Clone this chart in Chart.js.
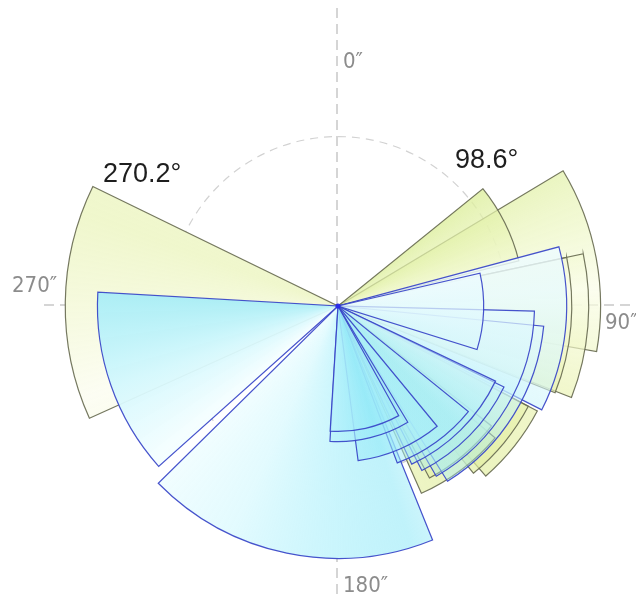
<!DOCTYPE html>
<html>
<head>
<meta charset="utf-8">
<script src="https://cdn.jsdelivr.net/npm/chart.js@4/dist/chart.umd.min.js"></script>
<style>
  html, body { margin: 0; padding: 0; background: #ffffff; overflow: hidden; }
  #wrap { width: 636px; height: 595px; position: relative; }
</style>
</head>
<body>
<div id="wrap"><canvas id="rose"></canvas></div>
<script>
// Joint set A (yellow): sector azimuths (deg, clockwise from north) and frequency (%)
const setAFrom = [245.7, 51, 59, 78, 78, 117.8, 117.8, 128, 130];
const setATo   = [296, 76, 100, 111.8, 111.4, 141, 139, 152, 156];
const setAFreq = [16.1, 11.0, 15.5, 13.8, 14.8, 12.7, 13.3, 11.5, 12.1];

// Joint set B (blue)
const setBFrom = [228.2, 158, 75, 77, 91.5, 95.6, 115.5, 116, 151, 149, 140.5, 129];
const setBTo   = [273.3, 225.4, 117, 107.4, 150, 148, 155, 153, 183.6, 183.4, 172.6, 159.3];
const setBFreq = [14.2, 14.9, 13.5, 8.6, 11.6, 12.2, 10.3, 10.9, 7.4, 8.0, 9.2, 9.9];

// Compass labels and mean directions
const axisLabels = ['0″', '90″', '180″', '270″'];
const meanLabels = ['270.2°', '98.6°'];

const refRing = 10;   // dashed reference circle (%)
const rMax = 17;      // outer limit of the radial scale (%)

// colour ramps around the compass (bearing in degrees -> rgba)
const blueRamp = [
  [0, 'rgba(190,242,250,0.60)'], [75, 'rgba(238,252,255,0.84)'], [110, 'rgba(215,247,252,0.60)'],
  [135, 'rgba(168,238,249,0.40)'], [150, 'rgba(168,238,249,0.42)'], [163, 'rgba(150,234,248,0.60)'],
  [185, 'rgba(188,243,252,0.74)'], [205, 'rgba(222,250,254,0.86)'], [230, 'rgba(244,254,255,0.93)'],
  [250, 'rgba(212,248,253,0.95)'], [275, 'rgba(160,236,248,0.88)'], [360, 'rgba(190,242,250,0.60)']
];
const yellowRamp = [
  [0, 'rgba(232,242,185,0.60)'], [50, 'rgba(220,238,155,0.80)'], [66, 'rgba(232,244,182,0.68)'],
  [86, 'rgba(250,253,232,0.72)'], [110, 'rgba(234,243,178,0.65)'], [140, 'rgba(226,238,160,0.68)'],
  [250, 'rgba(252,253,242,0.92)'], [290, 'rgba(236,245,192,0.80)'], [360, 'rgba(232,242,185,0.60)']
];

const fillCache = {};
function sectorFill(chart, kind) {
  const flat = kind === 'B' ? 'rgba(180,240,250,0.6)' : 'rgba(230,242,175,0.6)';
  const s = chart.scales && chart.scales.r;
  if (!s || !Number.isFinite(s.xCenter) || !Number.isFinite(s.yCenter)) return flat;
  const key = kind + ':' + s.xCenter + ',' + s.yCenter;
  if (fillCache[key]) return fillCache[key];
  const ctx = chart.ctx;
  if (typeof ctx.createConicGradient !== 'function') return flat;
  const g = ctx.createConicGradient(-Math.PI / 2, s.xCenter, s.yCenter);
  (kind === 'B' ? blueRamp : yellowRamp).forEach(([deg, col]) => g.addColorStop(deg / 360, col));
  fillCache[key] = g;
  return g;
}

// one polar-area dataset per sector: a zero-length spacer up to the start azimuth, then the sector.
// Shorter sectors are layered above longer ones, blue above yellow.
function sectorDataset(from, to, freq, kind) {
  return {
    data: [0, freq],
    angle: (c) => (c.dataIndex === 0 ? from : to - from),
    backgroundColor: (c) => (c.dataIndex === 0 ? 'rgba(0,0,0,0)' : sectorFill(c.chart, kind)),
    borderColor: (c) => (c.dataIndex === 0 ? 'rgba(0,0,0,0)' : (kind === 'B' ? 'rgba(55,68,200,0.92)' : 'rgba(105,108,82,0.92)')),
    borderWidth: (c) => (c.dataIndex === 0 ? 0 : 1.2),
    borderJoinStyle: 'miter',
    order: (kind === 'B' ? 0 : 100) + freq,
    clip: false,
    masksGuides: kind === 'B' || from > 180
  };
}

const datasets = [];
setBFrom.forEach((f, i) => datasets.push(sectorDataset(f, setBTo[i], setBFreq[i], 'B')));
setAFrom.forEach((f, i) => datasets.push(sectorDataset(f, setATo[i], setAFreq[i], 'A')));

// compass cross and reference ring, dashed, kept out of the opaque sectors; labels on top
const compassAxes = {
  id: 'compassAxes',
  beforeDatasetsDraw(chart) {
    const s = chart.scales.r;
    const cx = s.xCenter, cy = s.yCenter;
    const off = document.createElement('canvas');
    off.width = chart.canvas.width;
    off.height = chart.canvas.height;
    const o = off.getContext('2d');
    o.strokeStyle = '#ababab';
    o.lineWidth = 1;
    o.setLineDash([10, 6]);
    o.beginPath();
    o.moveTo(cx - 1, 8); o.lineTo(cx - 1, chart.height);
    o.moveTo(44, cy - 1); o.lineTo(chart.width, cy - 1);
    o.stroke();
    o.strokeStyle = '#d2d2d2';
    o.lineWidth = 1.2;
    o.setLineDash([8, 6]);
    o.beginPath();
    o.arc(cx, cy, s.getDistanceFromCenterForValue(refRing), 0, Math.PI * 2);
    o.stroke();
    o.globalCompositeOperation = 'destination-out';
    o.setLineDash([]);
    chart.data.datasets.forEach((ds, i) => {
      if (!ds.masksGuides) return;
      const arc = chart.getDatasetMeta(i).data[1];
      if (!arc) return;
      o.beginPath();
      o.moveTo(arc.x, arc.y);
      o.arc(arc.x, arc.y, arc.outerRadius, arc.startAngle, arc.endAngle);
      o.closePath();
      o.fill();
    });
    chart.ctx.drawImage(off, 0, 0);
  },
  afterDatasetsDraw(chart) {
    // hub where all sector edges meet
    const s = chart.scales.r;
    const ctx = chart.ctx;
    ctx.save();
    ctx.fillStyle = 'rgba(40,40,235,0.9)';
    ctx.beginPath();
    ctx.arc(s.xCenter, s.yCenter, 2.6, 0, Math.PI * 2);
    ctx.fill();
    ctx.restore();
  },
  afterDraw(chart) {
    const s = chart.scales.r;
    const ctx = chart.ctx;
    const cx = s.xCenter, cy = s.yCenter;
    ctx.save();
    ctx.textBaseline = 'alphabetic';
    ctx.textAlign = 'left';
    ctx.fillStyle = '#8c8c8c';
    ctx.font = '22px "Liberation Sans Narrow", "DejaVu Sans Condensed", sans-serif';
    const offs = [[5, -238], [267, 23], [5, 286], [-326, -14]];
    axisLabels.forEach((t, i) => ctx.fillText(t, cx + offs[i][0], cy + offs[i][1]));
    ctx.fillStyle = '#1e1e1e';
    ctx.font = '27px "Liberation Sans", Arial, sans-serif';
    ctx.fillText(meanLabels[0], cx - 235, cy - 124);
    ctx.fillText(meanLabels[1], cx + 117, cy - 138);
    ctx.restore();
  }
};

new Chart(document.getElementById('rose'), {
  type: 'polarArea',
  data: { labels: ['', ''], datasets },
  options: {
    responsive: true,
    maintainAspectRatio: false,
    animation: false,
    events: [],
    layout: { padding: { left: 40, right: 0, top: 18, bottom: 0 } },
    plugins: { legend: { display: false }, tooltip: { enabled: false } },
    scales: {
      r: {
        min: 0,
        max: rMax,
        startAngle: 0,
        ticks: { display: false, stepSize: refRing },
        pointLabels: { display: false },
        angleLines: { display: false },
        grid: { display: false }
      }
    }
  },
  plugins: [compassAxes]
});
</script>
</body>
</html>
